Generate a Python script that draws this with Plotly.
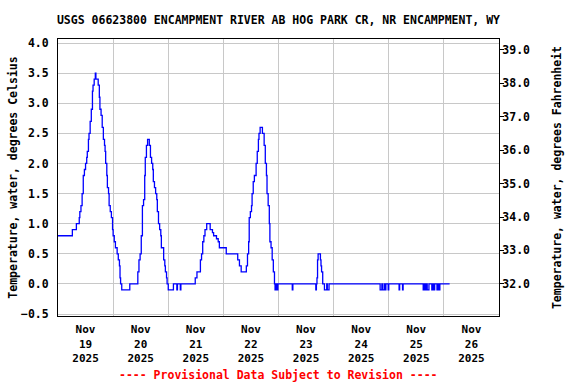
import plotly.graph_objects as go

# ---- data (change points of the 15-min record) ----
times = [
    "2025-11-19 00:00", "2025-11-19 06:15", "2025-11-19 08:00", "2025-11-19 09:15", "2025-11-19 09:30",
    "2025-11-19 10:00", "2025-11-19 10:30", "2025-11-19 11:00", "2025-11-19 11:30", "2025-11-19 12:00",
    "2025-11-19 12:30", "2025-11-19 12:45", "2025-11-19 13:15", "2025-11-19 13:30", "2025-11-19 14:00",
    "2025-11-19 14:30", "2025-11-19 15:00", "2025-11-19 15:15", "2025-11-19 15:45", "2025-11-19 16:15",
    "2025-11-19 16:30", "2025-11-19 17:30", "2025-11-19 18:00", "2025-11-19 18:15", "2025-11-19 18:45",
    "2025-11-19 19:15", "2025-11-19 19:45", "2025-11-19 20:15", "2025-11-19 20:30", "2025-11-19 20:45",
    "2025-11-19 21:15", "2025-11-19 21:30", "2025-11-19 22:00", "2025-11-19 22:15", "2025-11-19 22:45",
    "2025-11-19 23:15", "2025-11-19 23:45", "2025-11-20 00:00", "2025-11-20 00:30", "2025-11-20 01:00",
    "2025-11-20 01:45", "2025-11-20 02:15", "2025-11-20 02:45", "2025-11-20 03:00", "2025-11-20 03:15",
    "2025-11-20 03:45", "2025-11-20 07:15", "2025-11-20 10:45", "2025-11-20 11:15", "2025-11-20 11:45",
    "2025-11-20 12:15", "2025-11-20 12:45", "2025-11-20 13:15", "2025-11-20 13:45", "2025-11-20 14:00",
    "2025-11-20 14:30", "2025-11-20 15:00", "2025-11-20 15:45", "2025-11-20 16:15", "2025-11-20 16:45",
    "2025-11-20 17:15", "2025-11-20 17:30", "2025-11-20 18:00", "2025-11-20 18:30", "2025-11-20 19:00",
    "2025-11-20 19:15", "2025-11-20 19:45", "2025-11-20 20:15", "2025-11-20 20:45", "2025-11-20 21:00",
    "2025-11-20 22:00", "2025-11-20 22:30", "2025-11-20 22:45", "2025-11-20 23:15", "2025-11-20 23:30",
    "2025-11-21 00:00", "2025-11-21 02:15", "2025-11-21 03:45", "2025-11-21 04:00", "2025-11-21 05:15",
    "2025-11-21 05:30", "2025-11-21 11:45", "2025-11-21 12:30", "2025-11-21 14:00", "2025-11-21 14:30",
    "2025-11-21 15:00", "2025-11-21 15:30", "2025-11-21 16:00", "2025-11-21 16:45", "2025-11-21 18:15",
    "2025-11-21 19:15", "2025-11-21 19:45", "2025-11-21 21:00", "2025-11-21 21:45", "2025-11-21 22:15",
    "2025-11-22 01:15", "2025-11-22 06:15", "2025-11-22 07:00", "2025-11-22 07:45", "2025-11-22 10:00",
    "2025-11-22 10:30", "2025-11-22 11:00", "2025-11-22 11:15", "2025-11-22 11:45", "2025-11-22 12:15",
    "2025-11-22 12:30", "2025-11-22 13:00", "2025-11-22 13:30", "2025-11-22 14:15", "2025-11-22 14:45",
    "2025-11-22 15:15", "2025-11-22 15:30", "2025-11-22 16:00", "2025-11-22 17:00", "2025-11-22 17:45",
    "2025-11-22 18:15", "2025-11-22 18:45", "2025-11-22 19:00", "2025-11-22 19:30", "2025-11-22 20:00",
    "2025-11-22 20:15", "2025-11-22 20:45", "2025-11-22 21:15", "2025-11-22 21:45", "2025-11-22 22:15",
    "2025-11-22 22:30", "2025-11-22 23:00", "2025-11-22 23:15", "2025-11-22 23:45", "2025-11-23 06:00",
    "2025-11-23 06:15", "2025-11-23 16:15", "2025-11-23 16:30", "2025-11-23 16:45", "2025-11-23 17:00",
    "2025-11-23 17:15", "2025-11-23 18:15", "2025-11-23 18:30", "2025-11-23 18:45", "2025-11-23 19:15",
    "2025-11-23 20:00", "2025-11-23 21:00", "2025-11-23 21:15", "2025-11-23 22:00", "2025-11-24 20:15",
    "2025-11-24 21:00", "2025-11-24 21:15", "2025-11-24 22:00", "2025-11-24 22:30", "2025-11-24 22:45",
    "2025-11-24 23:45", "2025-11-25 00:00", "2025-11-25 04:30", "2025-11-25 04:45", "2025-11-25 06:00",
    "2025-11-25 06:15", "2025-11-25 15:00", "2025-11-25 15:30", "2025-11-25 15:45", "2025-11-25 16:15",
    "2025-11-25 16:45", "2025-11-25 17:30", "2025-11-25 18:45", "2025-11-25 19:00", "2025-11-25 19:30",
    "2025-11-25 20:00", "2025-11-25 21:00", "2025-11-25 21:15", "2025-11-25 21:45", "2025-11-25 22:15",
    "2025-11-26 02:30",
]
temp_c = [
    0.8, 0.9, 1.0, 1.1, 1.2,
    1.3, 1.5, 1.8, 1.9, 2.0,
    2.1, 2.2, 2.4, 2.5, 2.7,
    2.9, 3.2, 3.3, 3.4, 3.5,
    3.4, 3.3, 3.1, 2.9, 2.8,
    2.6, 2.4, 2.3, 2.2, 2.0,
    1.8, 1.6, 1.5, 1.3, 1.2,
    1.1, 0.9, 0.8, 0.7, 0.6,
    0.5, 0.4, 0.3, 0.1, 0.0,
    -0.1, 0.0, 0.2, 0.4, 0.5,
    0.8, 1.3, 1.4, 1.8, 2.1,
    2.3, 2.4, 2.3, 2.1, 2.0,
    1.9, 1.7, 1.6, 1.5, 1.4,
    1.2, 1.0, 0.9, 0.8, 0.6,
    0.4, 0.3, 0.2, 0.1, 0.0,
    -0.1, 0.0, -0.1, 0.0, -0.1,
    0.0, 0.1, 0.2, 0.4, 0.5,
    0.7, 0.8, 0.9, 1.0, 0.9,
    0.85, 0.8, 0.75, 0.7, 0.6,
    0.5, 0.4, 0.3, 0.2, 0.3,
    0.5, 0.7, 1.1, 1.2, 1.3,
    1.5, 1.7, 1.8, 2.0, 2.2,
    2.4, 2.5, 2.6, 2.5, 2.3,
    2.0, 1.8, 1.5, 1.3, 1.0,
    0.7, 0.6, 0.4, 0.2, 0.0,
    -0.1, 0.0, -0.1, 0.0, -0.1,
    0.0, -0.1, 0.0, 0.1, 0.4,
    0.5, 0.4, 0.3, 0.2, 0.0,
    -0.1, 0.0, -0.1, 0.0, -0.1,
    0.0, -0.1, 0.0, -0.1, 0.0,
    -0.1, 0.0, -0.1, 0.0, -0.1,
    0.0, -0.1, 0.0, -0.1, 0.0,
    -0.1, 0.0, -0.1, 0.0, -0.1,
    0.0, -0.1, 0.0, -0.1, 0.0,
    0.0,
]

day_ticks = ["2025-11-%d 12:00" % d for d in range(19, 27)]
day_labels = ["Nov<br>%d<br>2025" % d for d in range(19, 27)]
c_ticks = [-0.5, 0.0, 0.5, 1.0, 1.5, 2.0, 2.5, 3.0, 3.5, 4.0]
f_ticks = [32.0, 33.0, 34.0, 35.0, 36.0, 37.0, 38.0, 39.0]

c_range = [-0.533, 4.067]
f_range = [32 + 1.8 * c_range[0], 32 + 1.8 * c_range[1]]

FONT = "DejaVu Sans Mono"
GRID = "#c8c8c8"

fig = go.Figure()
fig.add_trace(go.Scatter(
    x=times, y=temp_c, mode="lines", line=dict(color="#0000ff", width=1.3, shape="hv"),
    showlegend=False, hoverinfo="skip"))
fig.add_trace(go.Scatter(
    x=times, y=[32 + 1.8 * v for v in temp_c], mode="lines", yaxis="y2",
    line=dict(color="rgba(0,0,0,0)", width=0, shape="hv"),
    showlegend=False, hoverinfo="skip"))

fig.update_layout(
    width=576, height=384,
    margin=dict(l=58, r=77, t=39, b=68, autoexpand=False),
    paper_bgcolor="white", plot_bgcolor="white",
    font=dict(family=FONT, size=11.5, color="black", weight="bold"),
    title=dict(text="USGS 06623800 ENCAMPMENT RIVER AB HOG PARK CR, NR ENCAMPMENT, WY",
               x=0.5, xref="paper", y=1 - 20 / 384, yref="container", yanchor="middle",
               xanchor="center", automargin=False,
               font=dict(family=FONT, size=11.5, color="black", weight="bold")),
    xaxis=dict(
        type="date", range=["2025-11-19 00:00", "2025-11-27 00:00"], automargin=False,
        tickmode="array", tickvals=day_ticks, ticktext=day_labels,
        ticks="outside", ticklen=3, tickcolor="rgba(0,0,0,0)",
        tickfont=dict(family=FONT, size=11, weight="bold"),
        showgrid=False, zeroline=False,
        showline=True, linecolor="black", linewidth=1, mirror=True,
        minor=dict(tickmode="linear", tick0="2025-11-19 00:00", dtick=86400000,
                   showgrid=True, gridcolor=GRID, gridwidth=1, ticks=""),
    ),
    yaxis=dict(
        range=c_range, tickmode="array", tickvals=c_ticks, tickformat=".1f", automargin=True,
        ticks="outside", ticklen=6, tickcolor="rgba(0,0,0,0)",
        showgrid=True, gridcolor=GRID, gridwidth=1, zeroline=False,
        showline=True, linecolor="black", linewidth=1, mirror=True,
        title=dict(text="Temperature, water, degrees Celsius", standoff=0,
                   font=dict(family=FONT, size=11.5, weight="bold")),
    ),
    yaxis2=dict(
        overlaying="y", side="right", range=f_range, automargin=True,
        tickmode="array", tickvals=f_ticks, tickformat=".1f",
        ticks="outside", ticklen=4, tickcolor="black", ticklabelstandoff=-4,
        showgrid=False, zeroline=False, showline=False,
        title=dict(text="Temperature, water, degrees Fahrenheit", standoff=23,
                   font=dict(family=FONT, size=11.5, weight="bold")),
    ),
    annotations=[dict(
        text="---- Provisional Data Subject to Revision ----",
        x=0.5, xref="paper", y=-(375 - 316) / 277, yref="paper",
        xanchor="center", yanchor="middle", showarrow=False,
        font=dict(family=FONT, size=11.5, color="red", weight="bold"))],
)

fig.write_html("out.html", config={"displayModeBar": False},
               post_script="document.body.style.margin='0';")
